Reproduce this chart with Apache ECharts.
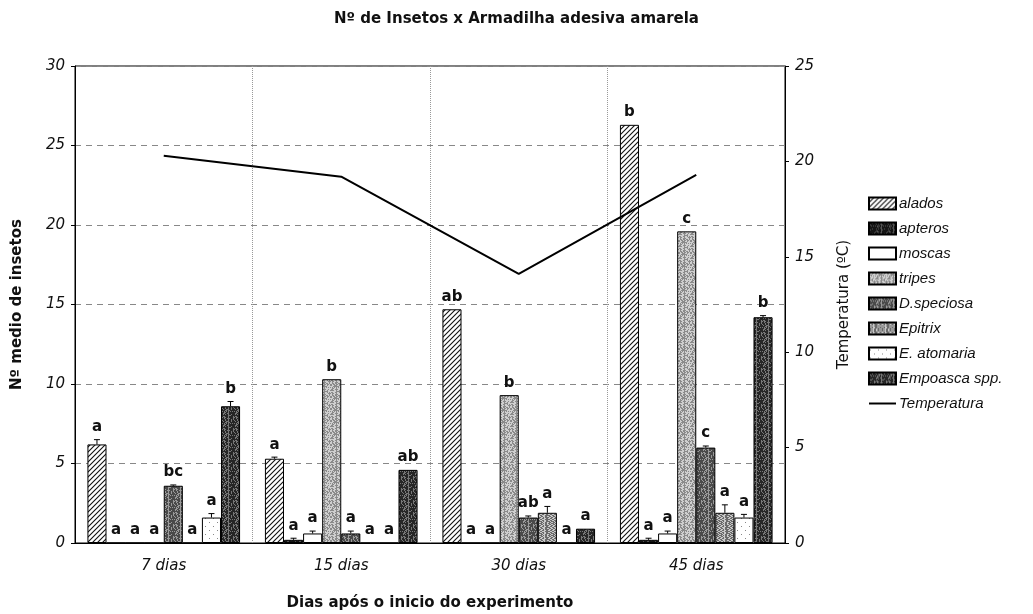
<!DOCTYPE html>
<html>
<head>
<meta charset="utf-8">
<script src="https://cdn.jsdelivr.net/npm/echarts@6/dist/echarts.min.js"></script>
<style>
  html, body { margin: 0; padding: 0; background: #fff; }
  #chart { width: 1033px; height: 614px; }
</style>
</head>
<body>
<div id="chart"></div>
<script>
// Sampling dates
const categories = ['7 dias', '15 dias', '30 dias', '45 dias'];

// Mean insect counts per trap
const alados     = [6.2, 5.3, 14.7, 26.3];
const apteros    = [0, 0.2, 0, 0.2];
const moscas     = [0, 0.6, 0, 0.6];
const tripes     = [0, 10.3, 9.3, 19.6];
const dSpeciosa  = [3.6, 0.6, 1.6, 6.0];
const epitrix    = [0, 0, 1.9, 1.9];
const eAtomaria  = [1.6, 0, 0, 1.6];
const empoasca   = [8.6, 4.6, 0.9, 14.2];

// Standard errors
const errAlados    = [0.3, 0.1, 0, 0];
const errApteros   = [0, 0.1, 0, 0.1];
const errMoscas    = [0, 0.15, 0, 0.15];
const errTripes    = [0, 0, 0, 0];
const errDSpec     = [0.05, 0.15, 0.1, 0.1];
const errEpitrix   = [0, 0, 0.4, 0.5];
const errEAtomaria = [0.25, 0, 0, 0.2];
const errEmpoasca  = [0.3, 0, 0, 0.1];

// Significance letters
const letAlados    = ['a', 'a', 'ab', 'b'];
const letApteros   = ['a', 'a', 'a', 'a'];
const letMoscas    = ['a', 'a', 'a', 'a'];
const letTripes    = ['a', 'b', 'b', 'c'];
const letDSpec     = ['bc', 'a', 'ab', 'c'];
const letEpitrix   = ['a', 'a', 'a', 'a'];
const letEAtomaria = ['a', 'a', 'a', 'a'];
const letEmpoasca  = ['b', 'ab', 'a', 'b'];

// Mean temperature (°C)
const temperatura = [20.3, 19.2, 14.1, 19.3];

const leftTicks = { min: 0, max: 30, interval: 5 };
const rightTicks = { min: 0, max: 25, interval: 5 };

// ---- fill textures ----
function canvas(n) {
  const c = document.createElement('canvas');
  c.width = n; c.height = n;
  return c;
}
function hatch() {
  const c = canvas(5), g = c.getContext('2d');
  g.fillStyle = '#fff'; g.fillRect(0, 0, 5, 5);
  g.strokeStyle = '#111'; g.lineWidth = 1.1;
  g.beginPath();
  g.moveTo(-1, 6); g.lineTo(6, -1);
  g.moveTo(-1, 1); g.lineTo(1, -1);
  g.moveTo(4, 6); g.lineTo(6, 4);
  g.stroke();
  return { image: c, repeat: 'repeat' };
}
function stipple(bg, dot, thresh, mod) {
  const n = 12, c = canvas(n), g = c.getContext('2d');
  g.fillStyle = bg; g.fillRect(0, 0, n, n);
  g.fillStyle = dot;
  for (let y = 0; y < n; y++) {
    for (let x = 0; x < n; x++) {
      const v = (x * 73 + y * 151 + x * y * 17 + (x ^ y) * 29) % mod;
      if (v < thresh) g.fillRect(x, y, 1, 1);
    }
  }
  return { image: c, repeat: 'repeat' };
}
function sparseDots() {
  const c = canvas(8), g = c.getContext('2d');
  g.fillStyle = '#fff'; g.fillRect(0, 0, 8, 8);
  g.fillStyle = '#888';
  g.fillRect(1, 2, 1, 1); g.fillRect(5, 6, 1, 1);
  return { image: c, repeat: 'repeat' };
}

const groups = [
  { name: 'alados',        data: alados,    err: errAlados,    let: letAlados,    fill: hatch() },
  { name: 'apteros',       data: apteros,   err: errApteros,   let: letApteros,   fill: stipple('#151515', '#555', 2, 9) },
  { name: 'moscas',        data: moscas,    err: errMoscas,    let: letMoscas,    fill: '#ffffff' },
  { name: 'tripes',        data: tripes,    err: errTripes,    let: letTripes,    fill: stipple('#cfcfcf', '#8a8a8a', 4, 9) },
  { name: 'D.speciosa',    data: dSpeciosa, err: errDSpec,     let: letDSpec,     fill: stipple('#4a4a4a', '#9a9a9a', 3, 9) },
  { name: 'Epitrix',       data: epitrix,   err: errEpitrix,   let: letEpitrix,   fill: stipple('#6a6a6a', '#c8c8c8', 3, 8) },
  { name: 'E. atomaria',   data: eAtomaria, err: errEAtomaria, let: letEAtomaria, fill: sparseDots() },
  { name: 'Empoasca spp.', data: empoasca,  err: errEmpoasca,  let: letEmpoasca,  fill: stipple('#262626', '#777', 3, 9) }
];

const GAP = 0.14;
const N = groups.length;
const FONT = '"DejaVu Sans", Verdana, sans-serif';
const LEGEND_FONT = '"Liberation Sans", Arial, sans-serif';

const barSeries = groups.map(gr => ({
  name: gr.name,
  type: 'bar',
  yAxisIndex: 0,
  data: gr.data,
  barGap: '0%',
  barCategoryGap: (GAP * 100) + '%',
  itemStyle: { color: gr.fill, borderColor: '#000', borderWidth: 1 },
  emphasis: { disabled: true },
  animation: false
}));

// error bars + letters, placed on top of each bar
const annot = [];
const annotLetters = [];
groups.forEach((gr, si) => {
  gr.data.forEach((v, ci) => {
    annot.push([ci, si, v, gr.err[ci]]);
    annotLetters.push(gr.let[ci]);
  });
});

const annotSeries = {
  type: 'custom',
  name: '_annot',
  yAxisIndex: 0,
  data: annot,
  silent: true,
  animation: false,
  z: 5,
  encode: { x: 0, y: 2 },
  renderItem: function (params, api) {
    const ci = api.value(0), si = api.value(1), v = api.value(2), e = api.value(3);
    const band = api.size([1, 0])[0];
    const total = band * (1 - GAP);
    const bw = total / N;
    const base = api.coord([ci, 0]);
    const cx = base[0] - total / 2 + (si + 0.5) * bw;
    const vy = api.coord([ci, v])[1];
    const ty = api.coord([ci, v + e])[1];
    const children = [];
    if (e > 0) {
      children.push({ type: 'line', shape: { x1: cx, y1: vy, x2: cx, y2: ty }, style: { stroke: '#000', lineWidth: 1 } });
      children.push({ type: 'line', shape: { x1: cx - 3, y1: ty, x2: cx + 3, y2: ty }, style: { stroke: '#000', lineWidth: 1 } });
    }
    children.push({
      type: 'text',
      style: {
        x: cx, y: ty - 5,
        text: annotLetters[params.dataIndex],
        align: 'center', verticalAlign: 'bottom',
        font: 'bold 15px ' + FONT,
        fill: '#111'
      }
    });
    return { type: 'group', children: children };
  }
};

const lineSeries = {
  name: 'Temperatura',
  type: 'line',
  yAxisIndex: 1,
  data: temperatura,
  symbol: 'none',
  lineStyle: { color: '#000', width: 2 },
  itemStyle: { color: '#000' },
  z: 6,
  animation: false
};

const legendData = groups.map(g => ({ name: g.name, icon: 'rect' }))
  .concat([{ name: 'Temperatura', icon: 'path://M0,0L30,0L30,2.2L0,2.2Z' }]);

const chart = echarts.init(document.getElementById('chart'), null, { renderer: 'canvas' });
chart.setOption({
  backgroundColor: '#fff',
  animation: false,
  title: {
    text: 'Nº de Insetos x Armadilha adesiva amarela',
    left: 'center',
    top: 7,
    textStyle: { fontFamily: FONT, fontSize: 15, fontWeight: 'bold', color: '#111' }
  },
  grid: {
    left: 75, right: 248, top: 66, bottom: 71,
    outerBoundsMode: 'none',
    containLabel: false,
    show: true, borderColor: '#000', borderWidth: 1, backgroundColor: 'transparent'
  },
  legend: {
    orient: 'vertical',
    left: 864,
    top: 190,
    itemWidth: 27,
    itemHeight: 12,
    itemGap: 10,
    padding: [6, 6, 6, 4],
    symbolKeepAspect: true,
    data: legendData,
    textStyle: { fontFamily: LEGEND_FONT, fontSize: 15, lineHeight: 14, fontStyle: 'italic', color: '#111', padding: [0, 0, 0, -2] },
    selectedMode: false
  },
  xAxis: {
    type: 'category',
    data: categories,
    name: 'Dias após o inicio do experimento',
    nameLocation: 'middle',
    nameGap: 53,
    nameTextStyle: { fontFamily: FONT, fontSize: 15, fontWeight: 'bold', color: '#111' },
    axisLine: { lineStyle: { color: '#000', width: 1 } },
    axisTick: { show: false },
    axisLabel: { fontFamily: FONT, fontSize: 15, fontStyle: 'italic', color: '#111', margin: 16 },
    splitLine: { show: true, interval: 0, lineStyle: { color: '#999', type: 'dotted', width: 1 } }
  },
  yAxis: [
    {
      type: 'value',
      min: leftTicks.min, max: leftTicks.max, interval: leftTicks.interval,
      name: 'Nº medio de insetos',
      nameLocation: 'middle',
      nameGap: 50,
      nameRotate: 90,
      nameTextStyle: { fontFamily: FONT, fontSize: 15, fontWeight: 'bold', color: '#111' },
      axisLine: { show: true, lineStyle: { color: '#000', width: 1 } },
      axisTick: { show: true, length: 4, lineStyle: { color: '#000' } },
      axisLabel: { fontFamily: FONT, fontSize: 15, fontStyle: 'italic', color: '#111', margin: 10 },
      splitLine: { show: true, lineStyle: { color: '#888', type: [6, 5], width: 1 } }
    },
    {
      type: 'value',
      min: rightTicks.min, max: rightTicks.max, interval: rightTicks.interval,
      position: 'right',
      name: 'Temperatura (ºC)',
      nameLocation: 'middle',
      nameGap: 52,
      nameRotate: 90,
      nameTextStyle: { fontFamily: FONT, fontSize: 15, color: '#111' },
      axisLine: { show: true, lineStyle: { color: '#000', width: 1 } },
      axisTick: { show: true, length: 4, lineStyle: { color: '#000' } },
      axisLabel: { fontFamily: FONT, fontSize: 15, fontStyle: 'italic', color: '#111', margin: 10 },
      splitLine: { show: false }
    }
  ],
  series: barSeries.concat([lineSeries, annotSeries])
});
</script>
</body>
</html>
